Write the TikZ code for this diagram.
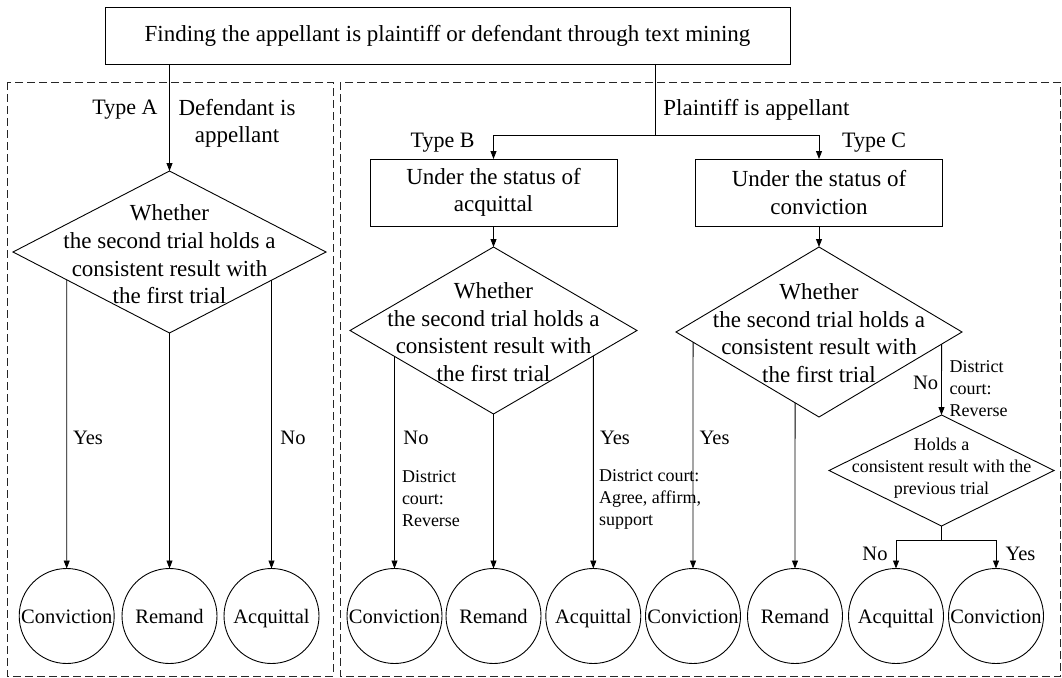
\documentclass[tikz,border=0pt]{standalone}
\usepackage{fontspec}
\setmainfont{Liberation Serif}
\usetikzlibrary{shapes.geometric,arrows.meta,calc}

\tikzset{
  flow/.style={line width=0.9pt, draw=black},
  arr/.style={flow, -{Triangle[length=8pt,width=6pt]}},
  region/.style={draw=black!85, line width=0.9pt, dash pattern=on 8pt off 4pt},
  big/.style={font=\fontsize{23}{27.6}\selectfont},
  typefont/.style={font=\fontsize{22}{26}\selectfont},
  mid/.style={font=\fontsize{20.5}{24}\selectfont},
  small/.style={font=\fontsize{18}{22}\selectfont},
  txt/.style={inner sep=0pt, outer sep=0pt},
  caption/.style={mid, inner sep=0pt, text height=14pt, text depth=4pt, yshift=-2pt},
  stepbox/.style={draw, line width=0.9pt, inner sep=0pt, outer sep=0pt,
    minimum width=247pt, minimum height=67pt, big, align=center},
  decision/.style={draw, diamond, line width=0.9pt, inner sep=0pt, outer sep=0pt},
  outcome/.style={draw, circle, line width=0.9pt, minimum size=95pt,
    inner sep=0pt, outer sep=0pt},
}

\begin{document}
\begin{tikzpicture}[x=1pt,y=-1pt]
\useasboundingbox (0,0) rectangle (1062,677);

% dashed regions
\draw[region] (7,82) rectangle (333,676);
\draw[region] (340,82) rectangle (1060.5,676);

% top box
\node[draw, line width=0.9pt, big, minimum width=685pt, minimum height=57pt,
  inner sep=0pt, outer sep=0pt] (title) at (447.5,35.5)
  {Finding the appellant is plaintiff or defendant through text mining};

% status boxes
\node[stepbox] (bB) at (493.5,192.5) {Under the status of\\acquittal};
\node[stepbox] (bC) at (819,192.5) {Under the status of\\conviction};

% decisions
\node[decision, minimum width=313pt, minimum height=162pt] (dA) at (169.5,252) {};
\node[decision, minimum width=287pt, minimum height=167pt] (dB) at (493.5,330.5) {};
\node[decision, minimum width=286pt, minimum height=170pt] (dC) at (819,332) {};
\node[decision, minimum width=225pt, minimum height=111pt] (dD) at (941.5,470.5) {};

\node[big, txt, align=center] (tA) at (169.5,254.5)
  {Whether\\the second trial holds a\\consistent result with\\the first trial};
\node[big, txt, align=center] (tB) at (493.5,332)
  {Whether\\the second trial holds a\\consistent result with\\the first trial};
\node[big, txt, align=center] (tC) at (819,333)
  {Whether\\the second trial holds a\\consistent result with\\the first trial};
\node[small, txt, align=center] (tD) at (941.5,468)
  {Holds a\\consistent result with the\\previous trial};

% outcomes
\node[outcome, label={[caption]center:Conviction}] (a1) at (66.7,616) {};
\node[outcome, label={[caption]center:Remand}]     (a2) at (169.5,616) {};
\node[outcome, label={[caption]center:Acquittal}]  (a3) at (271.5,616) {};
\node[outcome, label={[caption]center:Conviction}] (b1) at (394.5,616) {};
\node[outcome, label={[caption]center:Remand}]     (b2) at (493.5,616) {};
\node[outcome, label={[caption]center:Acquittal}]  (b3) at (593.3,616) {};
\node[outcome, label={[caption]center:Conviction}] (c1) at (693,616) {};
\node[outcome, label={[caption]center:Remand}]     (c2) at (795,616) {};
\node[outcome, label={[caption]center:Acquittal}]  (c3) at (896,616) {};
\node[outcome, label={[caption]center:Conviction}] (c4) at (996,616) {};

% branch texts
\node[typefont, txt] (typeA) at (125,110) {Type A};
\node[big, txt, align=center] (defapp) at (237,123.5) {Defendant is\\appellant};
\node[big, txt] (plapp) at (756.5,110) {Plaintiff is appellant};
\node[typefont, txt] (typeB) at (442.5,143) {Type B};
\node[typefont, txt] (typeC) at (874,143) {Type C};

\node[mid, txt] (yA) at (88,438) {Yes};
\node[mid, txt] (nA) at (293,438) {No};
\node[mid, txt] (nB) at (416,438) {No};
\node[small, txt, align=left, anchor=west] (revB) at (402,499) {District\\court:\\Reverse};
\node[mid, txt] (yB) at (615,438) {Yes};
\node[small, txt, align=left, anchor=west] (affB) at (599,499.5) {District court:\\Agree, affirm,\\support};
\node[mid, txt] (yC) at (714.6,438) {Yes};
\node[mid, txt] (nC) at (925.7,383) {No};
\node[small, txt, align=left, anchor=west] (revC) at (949.7,389) {District\\court:\\Reverse};
\node[mid, txt] (nD) at (875,554) {No};
\node[mid, txt] (yD) at (1020.5,554) {Yes};

% connectors from the top box
\draw[arr] (title.south -| dA.north) -- (dA.north);
\coordinate (split) at (655.5,135);
\draw[flow] (title.south -| split) -- (split);
\draw[arr] (split) -| (bB.north);
\draw[arr] (split) -| (bC.north);
\draw[arr] (bB.south) -- (dB.north);
\draw[arr] (bC.south) -- (dC.north);

% type A outcomes
\draw[arr] (intersection cs: first line={(dA.west)--(dA.south)}, second line={(a1.north)--(a1.south)}) -- (a1.north);
\draw[arr] (dA.south) -- (a2.north);
\draw[arr] (intersection cs: first line={(dA.east)--(dA.south)}, second line={(a3.north)--(a3.south)}) -- (a3.north);

% type B outcomes
\draw[arr] (intersection cs: first line={(dB.west)--(dB.south)}, second line={(b1.north)--(b1.south)}) -- (b1.north);
\draw[arr] (dB.south) -- (b2.north);
\draw[arr] (intersection cs: first line={(dB.east)--(dB.south)}, second line={(b3.north)--(b3.south)}) -- (b3.north);

% type C outcomes
\draw[arr] (intersection cs: first line={(dC.west)--(dC.south)}, second line={(c1.north)--(c1.south)}) -- (c1.north);
\draw[arr] (intersection cs: first line={(dC.west)--(dC.south)}, second line={(c2.north)--(c2.south)}) -- (c2.north);
\draw[arr] (intersection cs: first line={(dC.east)--(dC.south)}, second line={(dD.north)--(dD.south)}) -- (dD.north);
\coordinate (dfork) at ($(dD.south)+(0,14.7)$);
\draw[flow] (dD.south) -- (dfork);
\draw[arr] (dfork) -| (c3.north);
\draw[arr] (dfork) -| (c4.north);
\end{tikzpicture}
\end{document}
